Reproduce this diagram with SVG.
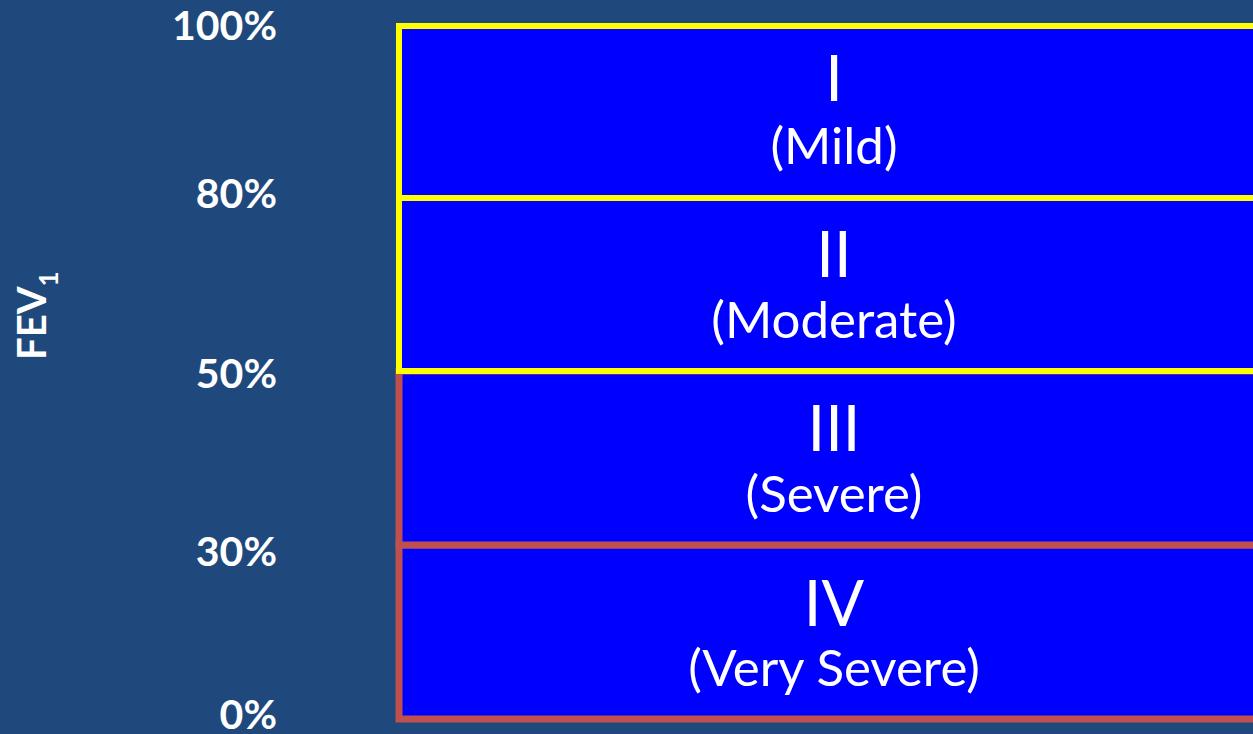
<svg xmlns="http://www.w3.org/2000/svg" width="1253" height="734" viewBox="0 0 1253 734">
  <style>
    .band { fill: #0000FF; stroke-width: 6; }
    .mildband { stroke: #FFFF00; }
    .sevband { stroke: #C0504D; stroke-width: 7; }
    .num { font-family: Lato, "Open Sans", sans-serif; font-size: 63px; fill: #FFFFFF; text-anchor: middle; }
    .lbl { font-family: Lato, "Open Sans", sans-serif; font-size: 51px; fill: #FFFFFF; text-anchor: middle; }
    .pct { font-family: Lato, "Open Sans", sans-serif; font-weight: bold; font-size: 41px; fill: #FFFFFF; text-anchor: end; }
    .axis { font-family: Lato, "Open Sans", sans-serif; font-weight: bold; font-size: 40px; fill: #FFFFFF; }
  </style>
  <rect x="0" y="0" width="1253" height="734" fill="#1F497D"/>

  <!-- severity bands, lower (red-edged) ones first so yellow edges sit on top -->
  <g id="stage-4">
    <rect class="band sevband" x="399" y="545" width="900" height="174"/>
    <text class="num" x="834" y="626">IV</text>
    <text class="lbl" x="834" y="686">(Very Severe)</text>
  </g>
  <g id="stage-3">
    <rect class="band sevband" x="399" y="371" width="900" height="174"/>
    <text class="num" x="834" y="451">III</text>
    <text class="lbl" x="834" y="512">(Severe)</text>
  </g>
  <g id="stage-2">
    <rect class="band mildband" x="399" y="198" width="900" height="173"/>
    <text class="num" x="834" y="277">II</text>
    <text class="lbl" x="834" y="338">(Moderate)</text>
  </g>
  <g id="stage-1">
    <rect class="band mildband" x="399" y="26" width="900" height="172"/>
    <text class="num" x="834" y="101">I</text>
    <text class="lbl" x="834" y="164">(Mild)</text>
  </g>

  <!-- FEV1 scale -->
  <g id="scale">
    <text class="pct" x="277" y="40">100%</text>
    <text class="pct" x="277" y="208">80%</text>
    <text class="pct" x="277" y="388">50%</text>
    <text class="pct" x="277" y="566">30%</text>
    <text class="pct" x="277" y="729">0%</text>
  </g>
  <g id="axis-title" transform="translate(46,360) rotate(-90)">
    <text class="axis" x="0" y="0">FEV<tspan font-size="26" dy="12">1</tspan></text>
  </g>
</svg>
